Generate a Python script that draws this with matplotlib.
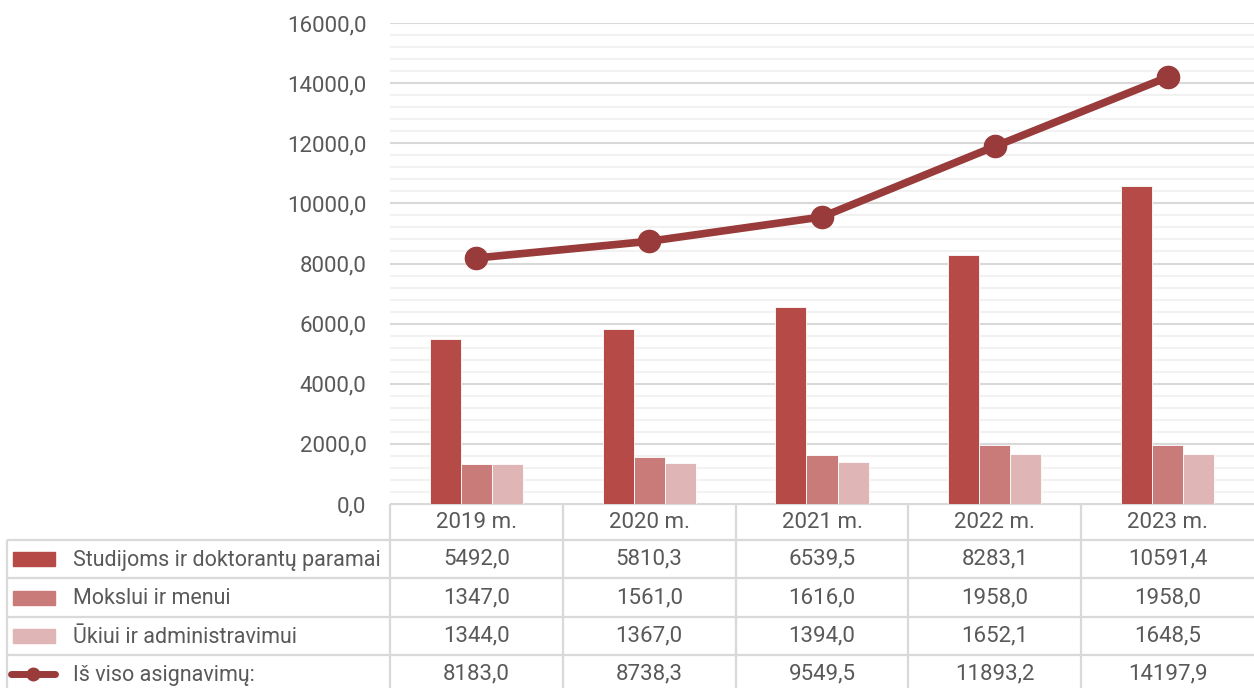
import matplotlib.pyplot as plt
import numpy as np
from matplotlib.ticker import MultipleLocator, FuncFormatter

years = ['2019 m.', '2020 m.', '2021 m.', '2022 m.', '2023 m.']
studijoms = [5492.0, 5810.3, 6539.5, 8283.1, 10591.4]
mokslui = [1347.0, 1561.0, 1616.0, 1958.0, 1958.0]
ukiui = [1344.0, 1367.0, 1394.0, 1652.1, 1648.5]
is_viso = [8183.0, 8738.3, 9549.5, 11893.2, 14197.9]

labels = ['Studijoms ir doktorantų paramai', 'Mokslui ir menui',
          'Ūkiui ir administravimui', 'Iš viso asignavimų:']
colors = ['#B64A47', '#C97B79', '#E0B5B5']
line_color = '#983B3A'
grid_major = '#D9D9D9'
grid_minor = '#F2F2F2'
txt = '#595959'
fs = 16

plt.rcParams['font.family'] = ['Roboto', 'DejaVu Sans']

W, H = 1254, 688
fig = plt.figure(figsize=(W / 100, H / 100), dpi=100)

# plot area in pixels
x0, x1, y0, y1 = 390, 1254, 504, 23
ax = fig.add_axes([x0 / W, 1 - y0 / H, (x1 - x0) / W, (y0 - y1) / H])

x = np.arange(len(years))
bw = 0.18
ax.bar(x - bw, studijoms, bw, color=colors[0], edgecolor='white', linewidth=0.6, zorder=3)
ax.bar(x, mokslui, bw, color=colors[1], edgecolor='white', linewidth=0.6, zorder=3)
ax.bar(x + bw, ukiui, bw, color=colors[2], edgecolor='white', linewidth=0.6, zorder=3)
ax.plot(x, is_viso, color=line_color, lw=5.5, marker='o', ms=16, zorder=4)

ax.set_xlim(-0.5, len(years) - 0.5)
ax.set_ylim(0, 16000)
ax.yaxis.set_major_locator(MultipleLocator(2000))
ax.yaxis.set_minor_locator(MultipleLocator(400))
ax.yaxis.set_major_formatter(FuncFormatter(lambda v, p: f'{v:.1f}'.replace('.', ',')))
ax.grid(axis='y', which='major', color=grid_major, lw=1.5, zorder=0)
ax.grid(axis='y', which='minor', color=grid_minor, lw=1.5, zorder=0)
ax.tick_params(axis='y', which='both', length=0, labelsize=fs, labelcolor=txt, pad=17)
ax.tick_params(axis='x', length=0, labelbottom=False)
for s in ax.spines.values():
    s.set_visible(False)

# data table below the plot, pixel coordinates
tb = fig.add_axes([0, 0, 1, 1], zorder=-1)
tb.set_xlim(0, W)
tb.set_ylim(H, 0)
tb.axis('off')

col_w = (x1 - x0) / len(years)
rows = [504, 540, 578, 617, 655, 693]
lkw = dict(color=grid_major, lw=1.6, solid_capstyle='butt')

# horizontal lines
tb.plot([x0, x1], [rows[0], rows[0]], **lkw)
for r in rows[1:-1]:
    tb.plot([7, x1], [r, r], **lkw)
# vertical lines
tb.plot([7, 7], [rows[1], H], **lkw)
for i in range(len(years)):
    tb.plot([x0 + i * col_w] * 2, [rows[0], H], **lkw)

fmt = lambda v: f'{v:.1f}'.replace('.', ',')
for i, yr in enumerate(years):
    cx = x0 + (i + 0.5) * col_w
    tb.text(cx, (rows[0] + rows[1]) / 2, yr, ha='center', va='center', fontsize=fs, color=txt)
    for j, ser in enumerate([studijoms, mokslui, ukiui, is_viso]):
        tb.text(cx, (rows[j + 1] + rows[j + 2]) / 2, fmt(ser[i]), ha='center', va='center',
                fontsize=fs, color=txt)

for j, lab in enumerate(labels):
    cy = (rows[j + 1] + rows[j + 2]) / 2
    if j < 3:
        tb.add_patch(plt.Rectangle((13, cy - 7), 42, 14, color=colors[j]))
    else:
        tb.plot([11, 55], [cy, cy], color=line_color, lw=5, solid_capstyle='round')
        tb.plot([33], [cy], 'o', color=line_color, ms=9)
    tb.text(73, cy - 1, lab, ha='left', va='center_baseline', fontsize=15.5, color=txt)

fig.savefig('out.png', dpi=100)
